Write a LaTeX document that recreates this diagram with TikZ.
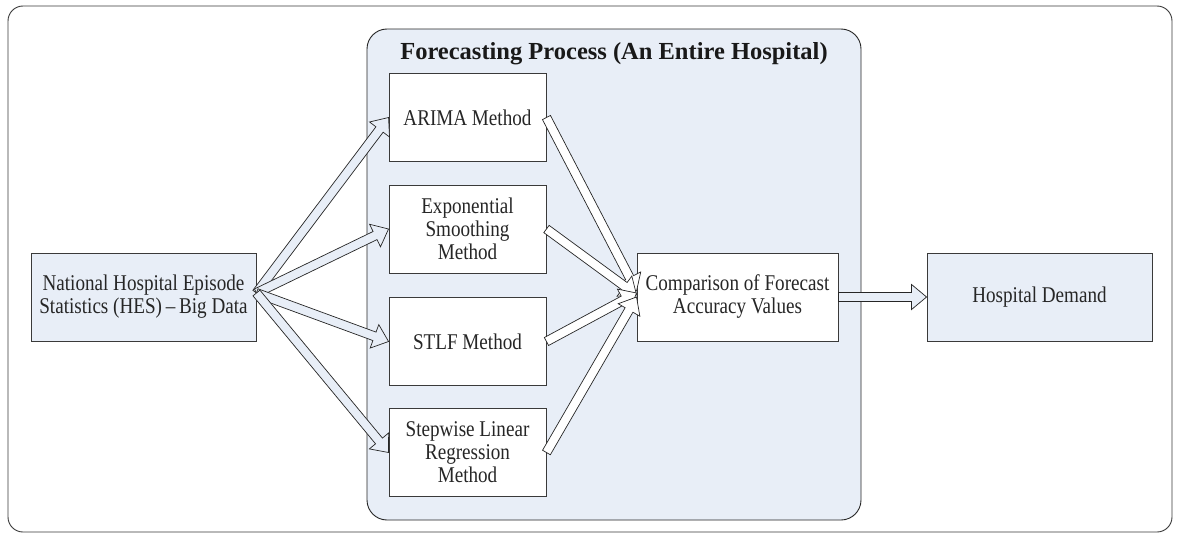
\documentclass[tikz,border=0pt]{standalone}
\usepackage{fontspec}
\setmainfont{Liberation Serif}
\newfontfamily\bodyfont{Liberation Serif}[FakeStretch=0.85, Ligatures=TeX]
\usetikzlibrary{calc}

\definecolor{paleblue}{HTML}{E8EEF7}
\definecolor{edgegray}{HTML}{3A3A3A}

\tikzset{
  box/.style={draw=edgegray, line width=0.9pt, align=center, inner sep=2pt,
    minimum height=88pt, text=black!85,
    font=\bodyfont\fontsize{22.5}{23}\selectfont},
  whitebox/.style={box, fill=white},
  bluebox/.style={box, fill=paleblue},
  methodbox/.style={whitebox, minimum width=157pt},
  arrowline/.style={draw=black!85, line width=0.7pt, line join=miter},
}

% block arrow: shaft half-width, head half-width, head length
\newcommand\shaftw{4.5pt}
\newcommand\headw{12.5pt}
\newcommand\headl{15pt}
\newcommand\blockarrow[3]{%
  \draw[arrowline, fill=#3]
    ($(#1)!\shaftw!90:(#2)$)
    -- ($(#2)!\headl!(#1)!\shaftw!-90:(#1)$)
    -- ($(#2)!\headl!(#1)!\headw!-90:(#1)$)
    -- (#2)
    -- ($(#2)!\headl!(#1)!\headw!90:(#1)$)
    -- ($(#2)!\headl!(#1)!\shaftw!90:(#1)$)
    -- ($(#1)!\shaftw!-90:(#2)$)
    -- cycle;}

\begin{document}
\begin{tikzpicture}[x=1pt, y=-1pt]
  \useasboundingbox (0,0) rectangle (1179,538);

  % outer frame
  \draw[edgegray, line width=0.9pt, rounded corners=15pt, fill=white]
    (8,6) rectangle (1172,532);

  % forecasting process container
  \draw[black!85, line width=0.9pt, rounded corners=20pt, fill=paleblue]
    (367,29) rectangle (861,520);
  \node[anchor=base, font=\bfseries\fontsize{24.5}{26}\selectfont, text=black!90]
    (title) at (614,59) {Forecasting Process (An Entire Hospital)};

  % data source and outcome
  \node[bluebox, minimum width=225pt] (hes) at (143.5,297)
    {National Hospital Episode\\Statistics (HES)\,–\,Big Data};
  \node[bluebox, minimum width=225pt] (hosp) at (1039.5,297) {Hospital Demand};

  % forecasting methods
  \node[methodbox] (arima) at (467.5,117.5) {ARIMA Method};
  \node[methodbox] (expo)  at (467.5,229)   {Exponential\\Smoothing\\Method};
  \node[methodbox] (stlf)  at (467.5,341.5) {STLF Method};
  \node[methodbox] (stepw) at (467.5,452.5) {Stepwise Linear\\Regression\\Method};

  % comparison
  \node[whitebox, minimum width=201pt] (cmp) at (737.5,297)
    {Comparison of Forecast\\Accuracy Values};

  % connector end points
  \coordinate (src) at ($(hes.east)+(0,-4)$);
  \coordinate (in1) at ($(cmp.west)+(0,-6)$);
  \coordinate (in2) at ($(cmp.west)+(0,-2)$);
  \coordinate (in3) at ($(cmp.west)+(0,-4)$);
  \coordinate (in4) at ($(cmp.west)+(0,0)$);

  % data to each method
  \blockarrow{src}{arima.west}{paleblue}
  \blockarrow{src}{expo.west}{paleblue}
  \blockarrow{src}{stlf.west}{paleblue}
  \blockarrow{src}{stepw.west}{paleblue}

  % methods to comparison
  \blockarrow{arima.east}{in1}{white}
  \blockarrow{expo.east}{in2}{white}
  \blockarrow{stlf.east}{in3}{white}
  \blockarrow{stepw.east}{in4}{white}

  % comparison to demand
  \blockarrow{cmp.east}{hosp.west}{paleblue}
\end{tikzpicture}
\end{document}
